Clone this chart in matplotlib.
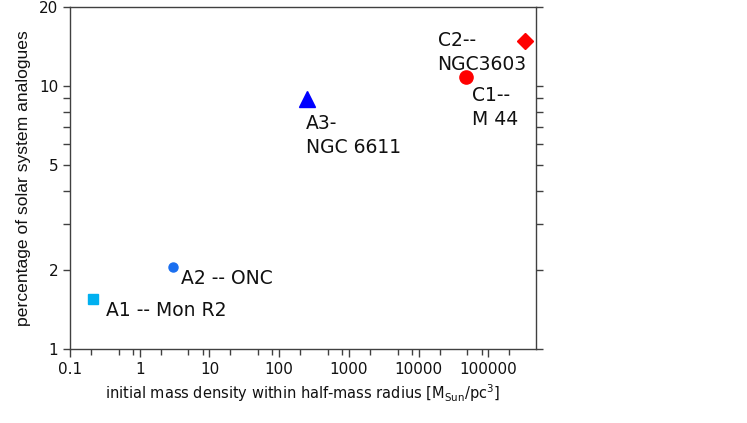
import matplotlib
matplotlib.use('Agg')
import matplotlib.pyplot as plt
from matplotlib.ticker import FixedLocator, NullFormatter, FixedFormatter

# cluster data
names = ['A1 -- Mon R2', 'A2 -- ONC', 'A3-\nNGC 6611', 'C1--\nM 44', 'C2--\nNGC3603']
density = [0.215, 2.95, 250, 48000, 330000]
percent = [1.55, 2.05, 8.9, 10.8, 14.8]

# styles
markers = ['s', 'o', '^', 'o', 'D']
msizes = [7, 6.5, 11, 9.5, 8]
colors = ['#00b0f0', '#1a6ff0', '#0000ff', '#ff0000', '#ff0000']
offsets = [(13, -17), (8, -17), (-1, -15), (6, -9), (-87, 10)]
valign = ['baseline', 'baseline', 'top', 'top', 'top']

ytick_vals = [1, 2, 5, 10, 20]
ytick_minor = [3, 4, 6, 7, 8, 9]
xtick_vals = [0.1, 1, 10, 100, 1000, 10000, 100000]
xtick_labels = ['0.1', '1', '10', '100', '1000', '10000', '100000']

plt.rcParams['font.family'] = 'DejaVu Sans'
fig = plt.figure(figsize=(7.47, 4.23), dpi=100)
ax = fig.add_axes([0.0937, 0.175, 0.6238, 0.8085])

for i in range(len(names)):
    ax.plot(density[i], percent[i], marker=markers[i], markersize=msizes[i],
            color=colors[i], linestyle='none')
    ax.annotate(names[i], (density[i], percent[i]), xytext=offsets[i],
                textcoords='offset pixels', fontsize=13.5, va=valign[i],
                ha='left', linespacing=1.3, color='#111111')

ax.set_xscale('log')
ax.set_yscale('log')
ax.set_xlim(0.1, 480000)
ax.set_ylim(1, 20)

ax.xaxis.set_major_locator(FixedLocator(xtick_vals))
ax.xaxis.set_major_formatter(FixedFormatter(xtick_labels))
minor_x = [d * m for d in xtick_vals for m in (2, 5, 8) if d * m < 480000]
ax.xaxis.set_minor_locator(FixedLocator(minor_x))
ax.xaxis.set_minor_formatter(NullFormatter())

ax.yaxis.set_major_locator(FixedLocator(ytick_vals))
ax.yaxis.set_major_formatter(FixedFormatter([str(v) for v in ytick_vals]))
ax.yaxis.set_minor_locator(FixedLocator(ytick_minor))
ax.yaxis.set_minor_formatter(NullFormatter())

edge = '#404040'
for spine in ('top', 'right', 'bottom', 'left'):
    ax.spines[spine].set_color(edge)
    ax.spines[spine].set_linewidth(1.0)

ax.tick_params(axis='both', which='both', direction='out', color=edge,
               labelsize=11, labelcolor='#111111', width=1)
ax.tick_params(axis='y', which='both', left=True, right=True, length=5)
ax.tick_params(axis='x', which='major', length=6)
ax.tick_params(axis='x', which='minor', length=4)

ax.set_xlabel('initial mass density within half-mass radius [M$_{\\mathregular{Sun}}$/pc$^{\\mathregular{3}}$]',
              fontsize=10.5, color='#111111', labelpad=4)
ax.set_ylabel('percentage of solar system analogues', fontsize=12.6,
              family='Liberation Sans', color='#111111', labelpad=6)

fig.savefig('out.png', dpi=100)
